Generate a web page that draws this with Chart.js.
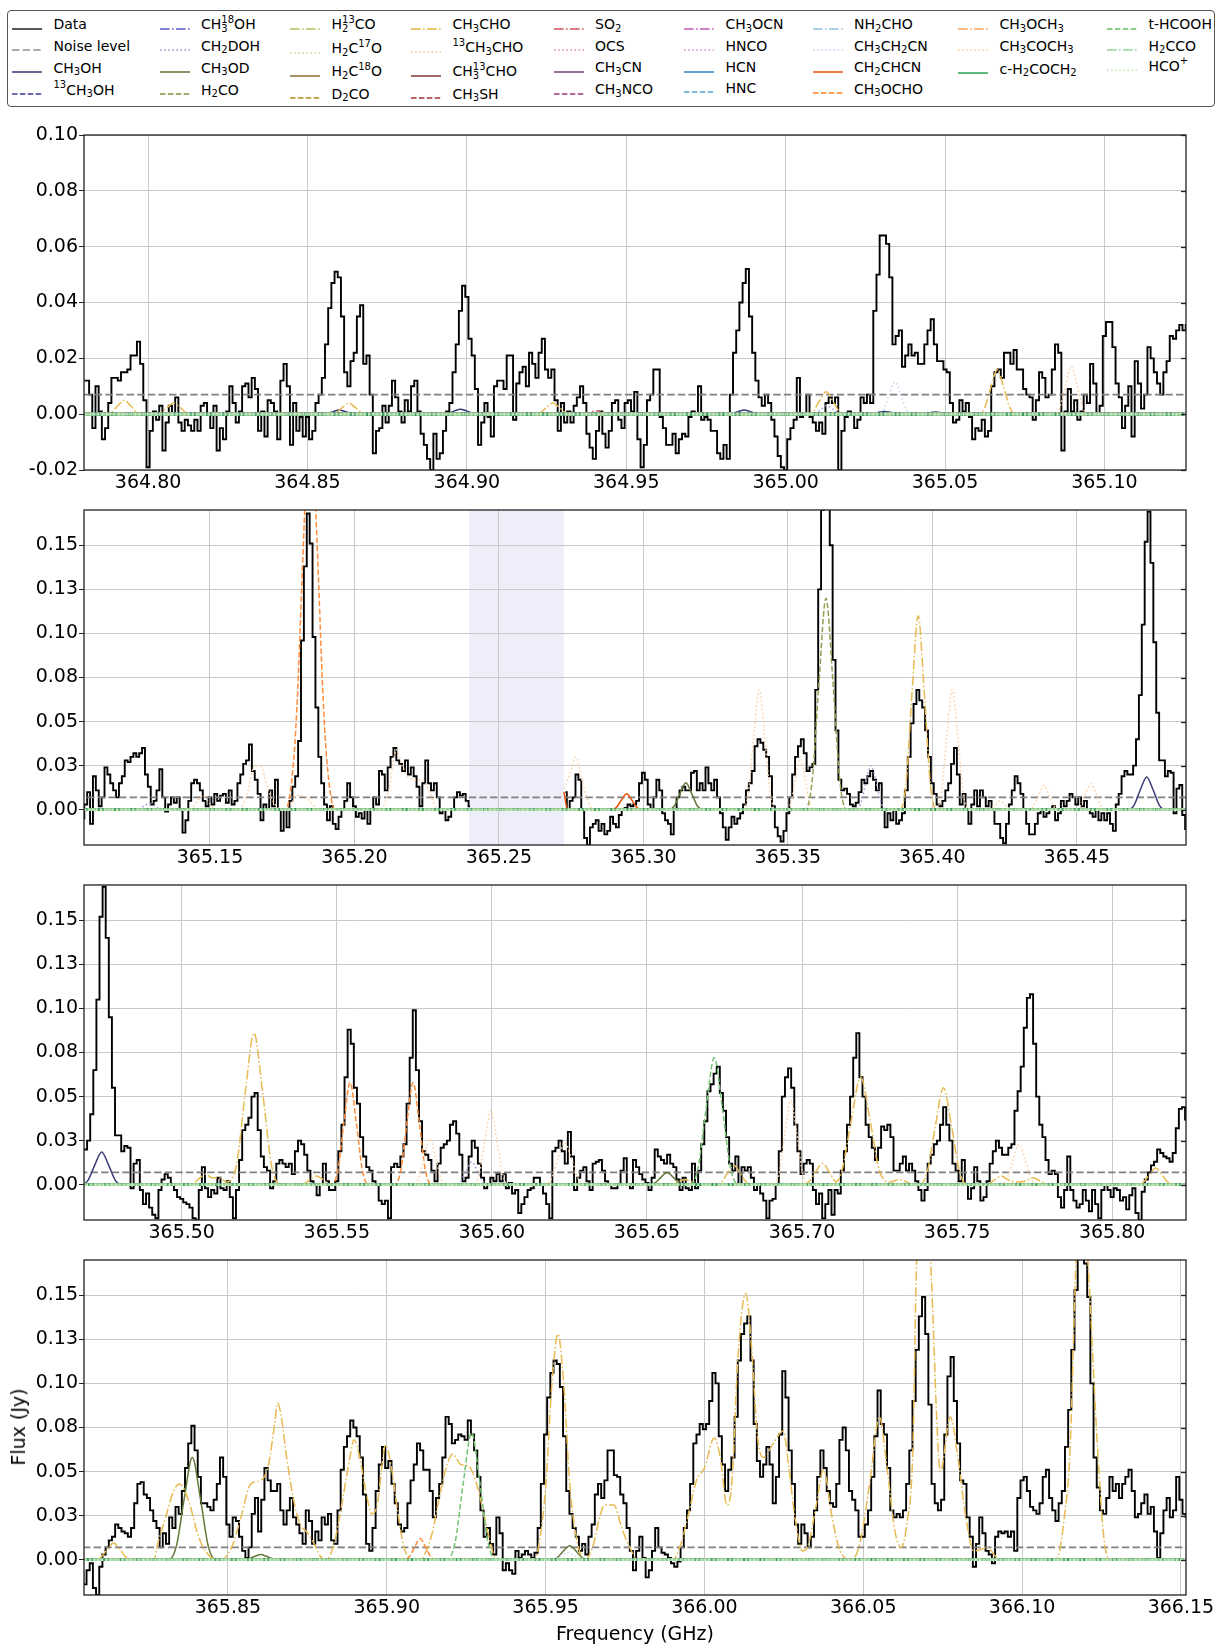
<!DOCTYPE html>
<html>
<head>
<meta charset="utf-8">
<script src="https://cdn.jsdelivr.net/npm/chart.js@4.4.0/dist/chart.umd.min.js"></script>
<style>
  body { margin: 0; background: #fff; font-family: "DejaVu Sans", sans-serif; }
  #page { position: relative; width: 1217px; height: 1645px; overflow: hidden; }
  canvas.panel { position: absolute; left: 0; }
  #legendBox { position: absolute; left: 7px; top: 10px; width: 1208px; height: 97px; box-sizing: border-box;
               border: 1.6px solid #555; border-radius: 4px; }
  .lg { position: absolute; font-size: 14px; line-height: 14px; white-space: nowrap; color: #000; }
  .lh { position: absolute; }
  .st { display: inline-block; position: relative; font-size: 10px; height: 0; vertical-align: baseline; }
  .st .up { position: absolute; left: 0; top: -14.5px; line-height: 10px; }
  .st .dn { position: absolute; left: 0; top: -5.5px; line-height: 10px; }
  .axlabel { position: absolute; font-size: 19px; white-space: nowrap; color: #000; }
</style>
</head>
<body>
<div id="page">
  <div id="legendBox"></div>
  <canvas id="p1" class="panel" width="1217" height="379"></canvas>
  <canvas id="p2" class="panel" width="1217" height="379"></canvas>
  <canvas id="p3" class="panel" width="1217" height="379"></canvas>
  <canvas id="p4" class="panel" width="1217" height="379"></canvas>
  <div class="axlabel" style="left:18px; top:1427px; transform:translate(-50%,-50%) rotate(-90deg);">Flux (Jy)</div>
  <div class="axlabel" style="left:635px; top:1633px; transform:translate(-50%,-50%);">Frequency (GHz)</div>
</div>
<script>
// observed spectrum, 1 MHz channels, four consecutive stretches
const chanWidth = 0.001;
const seg1Start = 364.780;
const fluxSeg1 = [
  0.012,0.012,0.007,-0.005,0.010,0.001,-0.009,-0.005,0.004,0.013,
  0.013,0.012,0.015,0.015,0.016,0.021,0.021,0.026,0.018,0.005,
  -0.019,-0.006,0.001,-0.002,0.003,-0.013,-0.003,0.003,0.000,0.006,
  -0.003,-0.006,-0.002,-0.004,-0.006,-0.002,-0.006,0.003,0.004,0.000,
  -0.005,0.003,-0.013,-0.005,-0.009,0.001,0.010,0.004,-0.003,0.001,
  0.010,0.011,0.006,0.013,0.009,-0.006,0.001,-0.008,0.005,0.004,
  0.001,-0.009,0.012,0.018,0.010,-0.011,0.004,-0.006,-0.001,-0.008,
  -0.001,-0.009,-0.006,0.004,0.007,0.013,0.025,0.038,0.047,0.051,
  0.049,0.035,0.015,0.010,0.019,0.022,0.035,0.039,0.018,0.021,
  0.007,-0.014,-0.006,-0.005,0.003,-0.003,0.003,0.012,0.006,0.001,
  -0.003,0.005,0.001,0.010,0.012,0.001,-0.007,-0.011,-0.016,-0.020,
  -0.007,-0.016,-0.014,-0.006,0.001,0.004,0.015,0.025,0.037,0.046,
  0.042,0.027,0.021,0.009,-0.011,-0.003,0.004,-0.001,-0.008,0.010,
  0.012,0.012,0.009,0.021,0.021,-0.002,0.011,0.015,0.017,0.010,
  0.022,0.018,0.013,0.022,0.027,0.016,0.013,0.016,0.005,-0.006,
  0.004,-0.003,0.001,-0.003,0.003,0.006,0.010,0.004,-0.007,-0.012,
  -0.016,-0.006,0.001,-0.007,-0.012,-0.006,0.004,0.005,-0.002,-0.005,
  0.004,0.005,0.001,0.008,-0.009,-0.019,-0.011,0.005,0.007,0.016,
  0.016,-0.001,-0.005,-0.011,-0.011,-0.007,-0.014,-0.009,-0.007,-0.008,
  -0.001,0.001,0.000,0.010,-0.002,-0.001,-0.002,-0.006,-0.006,-0.014,
  -0.016,-0.011,-0.016,0.007,0.022,0.030,0.040,0.047,0.052,0.035,
  0.022,0.012,0.006,0.003,0.007,0.004,-0.002,-0.008,-0.015,-0.019,
  -0.020,-0.009,-0.005,-0.002,0.013,-0.001,0.000,0.007,-0.001,-0.003,
  -0.006,-0.003,-0.007,0.004,0.006,0.004,0.006,-0.020,-0.006,-0.001,
  0.001,0.000,-0.005,-0.002,0.006,0.004,0.007,0.004,0.037,0.050,
  0.064,0.064,0.061,0.049,0.025,0.028,0.030,0.017,0.021,0.025,
  0.021,0.022,0.018,0.018,0.025,0.030,0.034,0.025,0.019,0.019,
  0.016,0.015,0.004,-0.003,-0.002,0.005,0.001,0.004,-0.001,-0.009,
  -0.005,-0.006,-0.002,-0.008,-0.006,0.010,0.015,0.016,0.013,0.022,
  0.022,0.018,0.023,0.016,0.016,0.009,0.007,0.006,-0.002,0.005,
  0.015,0.013,0.006,0.007,0.016,0.025,0.022,-0.013,0.001,0.009,
  0.001,0.005,-0.002,0.001,0.007,0.004,0.018,0.011,0.000,0.003,
  0.028,0.033,0.033,0.024,0.011,0.006,-0.005
];
const seg2Start = 365.107;
const fluxSeg2 = [
  0.003,0.010,-0.008,
  0.019,0.011,0.002,0.007,0.024,0.020,0.015,0.011,0.007,0.015,
  0.019,0.028,0.027,0.030,0.032,0.030,0.032,0.035,0.020,0.013,
  0.003,0.005,0.011,0.023,0.007,-0.001,0.003,0.007,0.004,0.007,
  0.000,-0.013,-0.006,0.005,0.015,0.017,0.015,0.011,0.005,0.002,
  0.007,0.003,0.009,0.005,0.008,0.009,0.004,0.011,0.003,0.005,
  0.015,0.020,0.026,0.028,0.037,0.022,0.017,0.009,-0.006,0.003,
  0.000,0.011,0.002,0.017,0.000,-0.012,0.000,-0.010,0.005,0.013,
  0.019,0.039,0.096,0.138,0.168,0.151,0.098,0.058,0.030,0.015,
  0.003,-0.006,0.002,-0.008,-0.011,-0.004,0.000,0.005,0.015,0.007,
  0.002,-0.004,-0.002,-0.005,0.000,-0.008,0.000,0.007,0.003,0.022,
  0.020,0.011,0.024,0.030,0.035,0.028,0.026,0.022,0.028,0.020,
  0.024,0.019,0.013,0.002,0.015,0.028,0.015,0.011,0.015,0.007,
  -0.002,0.000,-0.006,-0.004,0.000,0.007,0.010,0.008,0.009,0.005,
  0.002,
  null,null,null,null,null,null,null,null,null,null,null,null,null,null,null,null,
  null,null,null,null,null,null,null,null,null,null,null,null,null,null,null,null,
  0.010,0.000,0.005,0.007,0.020,0.017,0.000,
  -0.016,-0.020,-0.010,-0.008,-0.006,-0.012,-0.008,-0.014,-0.012,-0.004,-0.008,
  -0.010,-0.003,0.000,0.001,0.003,0.002,0.003,0.005,0.015,
  0.021,0.017,0.003,0.000,0.007,0.017,0.011,-0.002,-0.006,-0.008,
  -0.014,0.000,0.007,0.011,0.013,0.011,0.011,0.021,0.022,0.011,
  0.015,0.011,0.024,0.015,0.011,0.017,0.007,-0.002,-0.010,-0.017,
  -0.010,-0.004,-0.008,-0.005,-0.002,0.003,0.011,0.015,0.022,0.036,
  0.040,0.038,0.034,0.030,0.019,0.002,-0.010,-0.015,-0.018,-0.012,
  -0.002,0.007,0.020,0.030,0.036,0.040,0.032,0.022,0.024,0.026,
  0.068,0.125,0.170,0.178,0.175,0.150,0.085,0.045,0.017,0.011,
  0.012,0.009,0.003,0.002,0.004,0.010,0.017,0.015,0.019,0.022,
  0.017,0.011,0.015,0.000,-0.010,-0.002,-0.006,0.000,-0.008,-0.006,
  -0.002,0.011,0.030,0.049,0.060,0.068,0.062,0.058,0.045,0.030,
  0.015,0.009,0.003,0.002,0.005,0.011,0.015,0.026,0.035,0.020,
  0.003,0.009,0.000,-0.008,0.003,0.011,0.002,0.011,0.007,0.002,
  0.005,0.000,-0.008,-0.008,-0.016,-0.019,-0.008,0.003,0.011,0.019,
  0.015,0.009,0.000,-0.008,-0.014,-0.014,-0.008,-0.002,0.000,-0.004,
  -0.002,0.000,0.002,-0.006,-0.002,0.005,0.002,0.005,0.009,0.007,
  0.003,0.007,0.002,0.005,0.000,-0.002,-0.004,0.000,-0.006,-0.002,
  -0.006,-0.002,-0.008,-0.012,0.003,0.009,0.019,0.022,0.020
];
const seg3Start = 365.469;
const fluxSeg3 = [
  0.020,0.025,0.040,0.065,0.105,0.152,0.169,0.140,0.095,0.055,0.028,
  0.028,0.019,0.022,0.021,-0.002,0.012,0.014,-0.003,-0.011,-0.005,
  -0.013,-0.017,-0.019,-0.003,0.003,0.006,0.004,0.000,-0.003,-0.007,
  -0.008,-0.010,-0.011,-0.013,-0.019,-0.020,-0.003,0.010,-0.002,-0.007,
  -0.003,-0.005,0.004,-0.002,-0.003,0.002,-0.007,-0.019,-0.003,0.014,
  0.031,0.034,0.038,0.050,0.052,0.031,0.016,0.010,0.008,-0.002,
  0.002,0.012,0.014,0.012,0.010,0.012,0.006,0.019,0.025,0.023,
  0.017,0.008,0.002,0.000,-0.006,0.000,0.012,0.002,-0.003,-0.003,
  0.002,0.019,0.034,0.061,0.088,0.080,0.055,0.046,0.027,0.016,
  0.010,0.008,0.002,0.000,-0.009,-0.011,-0.009,-0.019,0.010,0.012,
  0.010,0.016,0.023,0.046,0.072,0.099,0.065,0.036,0.019,0.017,
  0.014,0.008,0.002,0.012,0.021,0.023,0.025,0.034,0.036,0.029,
  0.017,0.002,0.004,0.016,0.025,0.021,0.012,0.004,-0.002,0.000,
  0.004,0.002,0.006,0.002,0.006,-0.002,0.001,-0.005,-0.003,-0.016,
  -0.011,-0.007,-0.003,-0.002,0.004,0.004,0.000,-0.005,-0.011,-0.019,
  0.019,0.021,0.025,0.019,0.012,0.030,0.016,-0.003,0.004,0.008,
  0.010,0.002,-0.003,0.012,0.013,0.014,0.008,0.002,0.000,-0.002,
  -0.002,0.000,0.008,0.015,0.000,-0.002,0.014,0.010,0.006,0.003,
  0.001,-0.003,0.004,0.020,0.016,0.014,0.012,0.017,0.012,0.010,
  0.003,-0.003,0.004,-0.002,-0.003,0.012,-0.002,0.008,0.023,0.036,
  0.053,0.057,0.063,0.067,0.052,0.042,0.027,0.012,0.008,0.016,
  0.000,0.010,0.008,0.010,0.004,-0.003,0.000,-0.005,-0.009,-0.019,
  -0.009,-0.008,0.000,0.019,0.050,0.061,0.066,0.055,0.034,0.019,
  0.006,0.012,0.014,0.012,-0.003,-0.011,-0.005,-0.019,-0.011,-0.003,
  -0.017,-0.003,-0.005,0.008,0.019,0.034,0.050,0.072,0.086,0.061,
  0.050,0.034,0.027,0.021,0.014,0.021,0.033,0.031,0.034,0.027,
  0.008,0.008,0.012,0.016,0.008,0.012,0.008,0.002,-0.003,-0.009,
  -0.003,0.012,0.017,0.023,0.025,0.034,0.044,0.034,0.025,0.012,
  0.008,0.002,0.014,0.000,-0.008,-0.002,0.010,0.002,-0.009,-0.007,
  0.002,0.012,0.019,0.025,0.021,0.017,0.017,0.021,0.023,0.042,
  0.053,0.067,0.089,0.106,0.108,0.080,0.050,0.034,0.027,0.014,
  0.006,0.008,0.006,-0.007,-0.013,-0.003,0.016,-0.003,-0.009,-0.013,
  -0.011,-0.003,-0.009,-0.015,-0.003,-0.011,-0.019,-0.003,0.000,-0.003,
  -0.007,-0.002,-0.003,-0.009,-0.007
];
const seg4Start = 365.805;
const fluxSeg4 = [
  -0.014,-0.006,-0.002,-0.016,-0.020,
  -0.004,0.003,0.007,0.011,0.013,0.020,0.018,0.016,0.015,0.013,
  0.018,0.032,0.043,0.044,0.037,0.035,0.028,0.022,0.018,0.007,
  0.015,0.009,0.024,0.018,0.030,0.026,0.039,0.052,0.066,0.076,
  0.062,0.047,0.032,0.032,0.030,0.028,0.034,0.043,0.058,0.047,
  0.020,0.013,0.024,0.022,0.013,0.005,0.001,0.007,0.026,0.035,
  0.016,0.034,0.052,0.045,0.039,0.039,0.043,0.028,0.020,0.028,
  0.035,0.024,0.020,0.015,0.009,0.028,0.022,0.009,0.016,0.011,
  0.024,0.020,0.026,0.011,0.009,0.028,0.051,0.064,0.070,0.079,
  0.075,0.070,0.058,0.037,0.009,0.005,0.018,0.039,0.054,0.064,
  0.052,0.056,0.043,0.032,0.020,0.016,0.018,0.032,0.045,0.054,
  0.066,0.062,0.051,0.051,0.039,0.024,0.035,0.043,0.058,0.081,
  0.077,0.066,0.068,0.071,0.070,0.068,0.079,0.071,0.062,0.047,
  0.028,0.013,0.018,0.009,0.003,0.024,0.015,-0.006,-0.002,-0.006,
  -0.008,0.005,0.001,0.003,0.005,0.003,0.001,0.004,0.018,0.043,
  0.071,0.092,0.106,0.113,0.111,0.098,0.070,0.039,0.026,0.018,
  0.013,0.005,0.009,0.003,0.013,0.020,0.037,0.043,0.035,0.045,
  0.062,0.062,0.048,0.047,0.037,0.032,0.018,0.005,-0.006,0.005,
  0.013,0.001,-0.010,-0.006,0.005,0.018,0.007,0.004,0.003,0.001,
  -0.002,-0.004,-0.001,0.007,0.018,0.028,0.043,0.066,0.071,0.077,
  0.074,0.077,0.090,0.106,0.100,0.070,0.054,0.039,0.051,0.058,
  0.081,0.113,0.128,0.134,0.138,0.113,0.077,0.056,0.047,0.054,
  0.064,0.054,0.032,0.047,0.071,0.107,0.092,0.062,0.043,0.020,
  0.009,0.020,0.015,0.007,0.013,0.028,0.047,0.062,0.052,0.039,
  0.032,0.030,0.043,0.068,0.075,0.062,0.039,0.034,0.028,0.013,
  0.013,0.020,0.028,0.047,0.070,0.096,0.077,0.071,0.052,0.028,
  0.024,0.026,0.024,0.028,0.043,0.062,0.090,0.119,0.138,0.149,
  0.128,0.088,0.043,0.032,0.028,0.034,0.071,0.104,0.115,0.090,
  0.066,0.045,0.043,0.024,0.013,-0.004,0.009,0.024,0.015,0.005,
  0.003,-0.002,0.013,0.016,0.015,0.016,0.013,0.016,0.005,0.035,
  0.045,0.047,0.039,0.030,0.028,0.026,0.032,0.047,0.051,0.035,
  0.028,0.022,0.032,0.039,0.064,0.085,0.119,0.153,0.171,0.172,
  0.168,0.149,0.100,0.058,0.041,0.028,0.026,0.035,0.047,0.039,
  0.043,0.035,0.043,0.047,0.051,0.039,0.024,0.026,0.032,0.037,
  0.026,0.030,0.016,0.001,0.015,0.028,0.035,0.024,0.028,0.047,
  0.034,0.026,0.024
];
const noiseLevel = 0.007;
const maskedSpan = [365.2397, 365.2725];

// model spectra: [frequency GHz, flux Jy]
const flat = [[364.77,0],[366.16,0]];
const mCH3OH = [[364.77,0],[364.855,0],[364.858,.0009],[364.860,.0015],[364.862,.0009],[364.865,0],
  [364.893,0],[364.896,.0011],[364.898,.0018],[364.900,.0011],[364.903,0],
  [364.982,0],[364.985,.0009],[364.987,.0015],[364.989,.0009],[364.992,0],
  [365.026,0],[365.029,.0006],[365.031,.001],[365.033,.0006],[365.036,0],
  [365.042,0],[365.045,.0005],[365.047,.0008],[365.049,.0005],[365.052,0],
  [365.4676,0],[365.4698,.0025],[365.4720,.0113],[365.4742,.0186],[365.4764,.0113],[365.4786,.0025],[365.4808,0],[366.16,0]];
const mCH2DOH = [[364.77,0],[365.0085,0],[365.0112,.0018],[365.013,.003],[365.0148,.0018],[365.0175,0],
  [365.1245,0],[365.1272,.0021],[365.129,.0035],[365.1308,.0021],[365.1335,0],
  [365.3734,0],[365.3752,.0034],[365.377,.0152],[365.3788,.025],[365.3806,.0152],[365.3824,.0034],[365.3842,0],
  [365.5881,0],[365.5899,.0018],[365.5917,.0079],[365.5935,.013],[365.5953,.0079],[365.5971,.0018],[365.5989,0],[366.16,0]];
const mCH3OD = [[364.77,0],[365.3087,0],[365.3107,.0021],[365.3127,.0093],[365.3147,.0153],[365.3167,.0093],[365.3187,.0021],[365.3207,0],
  [365.6505,0],[365.6525,.0009],[365.6545,.0042],[365.6565,.007],[365.6585,.0042],[365.6605,.0009],[365.6625,0],
  [365.8313,0],[365.8338,.0078],[365.8363,.0352],[365.8388,.058],[365.8413,.0352],[365.8438,.0078],[365.8463,0],
  [365.8553,0],[365.8583,.0018],[365.8603,.003],[365.8623,.0018],[365.8653,0],
  [365.9516,0],[365.9536,.0011],[365.9556,.0049],[365.9576,.008],[365.9596,.0049],[365.9616,.0011],[365.9636,0],[366.16,0]];
const mH2CO = [[364.77,0],[365.3560,0],[365.3584,.0162],[365.3608,.0728],[365.3632,.120],[365.3656,.0728],[365.3680,.0162],[365.3704,0],[366.16,0]];
const mCH3CHO = [[364.77,0],
  [364.7875,0],[364.7905,.003],[364.7925,.005],[364.7945,.003],[364.7975,0],
  [364.803,0],[364.806,.0024],[364.808,.004],[364.810,.0024],[364.813,0],
  [364.858,0],[364.861,.0024],[364.863,.004],[364.865,.0024],[364.868,0],
  [364.922,0],[364.925,.0024],[364.927,.004],[364.929,.0024],[364.932,0],
  [365.0067,0],[365.0087,.0011],[365.0107,.0049],[365.0127,.008],[365.0147,.0049],[365.0167,.0011],[365.0187,0],
  [365.0604,0],[365.0624,.0022],[365.0644,.0097],[365.0664,.016],[365.0684,.0097],[365.0704,.0022],[365.0724,0],
  [365.3888,0],[365.3909,.0149],[365.3930,.0668],[365.3951,.110],[365.3972,.0668],[365.3993,.0149],[365.4014,0],
  [365.5027,0],[365.5057,.0036],[365.5077,.006],[365.5097,.004],[365.512,.004],[365.5145,.0015],
  [365.5177,.0116],[365.5205,.0522],[365.5233,.086],[365.5261,.0522],[365.5289,.0116],[365.5317,0],
  [365.5385,0],[365.5415,.003],[365.5435,.005],[365.5455,.003],[365.5485,0],
  [365.6572,0],[365.6602,.0018],[365.6622,.003],[365.6642,.0018],[365.6672,0],
  [365.672,0],[365.674,.0015],[365.676,.0067],[365.678,.011],[365.680,.0067],[365.682,.0015],[365.684,0],
  [365.700,0],[365.7022,.0016],[365.7044,.0073],[365.7066,.012],[365.7088,.0073],[365.711,.0016],
  [365.7129,.0082],[365.7159,.037],[365.7189,.061],[365.7219,.037],[365.7249,.0082],
  [365.7285,.0015],[365.7313,.003],[365.7333,.0018],[365.7363,0],
  [365.7378,0],[365.7404,.0074],[365.743,.0334],[365.7456,.055],[365.7482,.0334],[365.7508,.0074],[365.7534,0],
  [365.7593,0],[365.7623,.003],[365.7643,.005],[365.7663,.003],[365.7693,.0015],[365.7725,.0024],[365.7745,.004],[365.7765,.0024],[365.7795,0],
  [365.808,0],[365.810,.0013],[365.812,.0058],[365.814,.0095],[365.816,.0058],[365.818,.0013],[365.820,0],
  [365.8267,0],[365.8279,.009],[365.8304,.024],[365.8329,.039],[365.8348,.043],[365.8379,.032],[365.8404,.015],[365.8429,.005],[365.8466,0],
  [365.8479,0],[365.8516,.009],[365.8541,.024],[365.8572,.043],[365.8603,.045],[365.8628,.054],[365.8647,.077],[365.8657,.089],
  [365.8668,.081],[365.8685,.058],[365.8709,.032],[365.8728,.020],[365.8747,.016],[365.8766,.011],[365.8791,.002],[365.8809,0],
  [365.8834,.009],[365.8859,.032],[365.8884,.058],[365.8897,.068],[365.8915,.058],[365.8934,.039],[365.8953,.026],[365.8971,.032],
  [365.8988,.058],[365.8996,.065],[365.9015,.052],[365.9034,.028],[365.9052,.009],[365.9071,.001],[365.9102,0],
  [365.9140,.013],[365.9165,.035],[365.9190,.054],[365.9208,.060],[365.9233,.054],[365.9258,.053],[365.9283,.043],[365.9308,.024],[365.9327,.009],[365.9345,0],
  [365.9464,0],[365.9483,.013],[365.9501,.043],[365.9520,.100],[365.9539,.128],[365.9557,.100],[365.9576,.043],[365.9601,.009],[365.9626,0],
  [365.9651,.009],[365.9670,.024],[365.9686,.031],[365.9715,.031],[365.9740,.018],[365.9765,.007],[365.9790,0],
  [365.9901,0],[365.9926,.009],[365.9950,.026],[365.9975,.045],[366.0000,.052],[366.0031,.069],[366.0050,.058],[366.0071,.031],
  [366.0087,.045],[366.0105,.113],[366.0130,.151],[366.0149,.119],[366.0167,.070],[366.0186,.058],[366.0217,.066],[366.0248,.073],
  [366.0266,.052],[366.0285,.024],[366.0309,.005],[366.0328,.009],[366.0353,.032],[366.0375,.051],[366.0402,.024],[366.0427,.005],[366.0464,0],
  [366.0489,.009],[366.0520,.043],[366.0551,.081],[366.0575,.052],[366.0600,.016],[366.0619,.007],[366.0637,.020],[366.0656,.062],
  [366.0668,.17],[366.0690,.23],[366.0712,.17],[366.0736,.062],[366.0743,.050],[366.0774,.081],[366.0798,.058],[366.0823,.024],
  [366.0848,.005],[366.0873,.006],[366.0891,.007],[366.0916,.002],[366.0934,0],
  [366.1108,0],[366.1133,.024],[366.1151,.062],[366.1170,.17],[366.1188,.215],[366.1207,.17],[366.1238,.062],[366.1256,.015],[366.1275,0],[366.16,0]];
const mSO2 = [[364.77,0],[364.936,0],[364.939,.0007],[364.9405,.0012],[364.942,.0007],[364.945,0],[366.16,0]];
const mCH3CH2CN = [[364.77,0],[365.0289,0],[365.0307,.0016],[365.0325,.007],[365.0343,.0116],[365.0361,.007],[365.0379,.0016],[365.0397,0],
  [365.952,0],[365.955,.0024],[365.957,.004],[365.959,.0024],[365.962,0],[366.16,0]];
const mCH2CHCN = [[364.77,0],[365.2397,0],[365.256,null],[365.2725,.010],[365.2738,0],
  [365.2888,0],[365.2906,.0012],[365.2924,.0055],[365.2942,.009],[365.2960,.0055],[365.2978,.0012],[365.2996,0],[366.16,0]];
const mCH3OCHO = [[364.77,0],[365.1761,0],[365.1790,.0287],[365.1804,.069],[365.1818,.1287],[365.1833,.187],[365.1847,.212],
  [365.1861,.187],[365.1876,.1287],[365.1890,.069],[365.1904,.0287],[365.1933,0],
  [365.5483,0],[365.5503,.0078],[365.5523,.0352],[365.5543,.058],[365.5563,.0352],[365.5583,.0078],[365.5603,0],
  [365.5686,0],[365.5706,.0078],[365.5726,.0352],[365.5746,.058],[365.5766,.0352],[365.5786,.0078],[365.5806,0],
  [365.9054,0],[365.9071,.0016],[365.9088,.0073],[365.9105,.012],[365.9122,.0073],[365.9139,.0016],[365.9156,0],[366.16,0]];
const mCH3COCH3 = [[364.77,0],[365.0842,0],[365.086,.0023],[365.0878,.0103],[365.0896,.017],[365.0914,.0103],[365.0932,.0023],[365.095,0],
  [365.1421,0],[365.1439,.0011],[365.1457,.0049],[365.1475,.008],[365.1493,.0049],[365.1511,.0011],[365.1529,0],
  [365.160,0],[365.163,.01],[365.1655,.025],[365.1675,.025],[365.170,.012],[365.1725,.003],[365.175,0],
  [365.177,0],[365.180,.008],[365.1825,.008],[365.185,.004],[365.188,0],
  [365.209,0],[365.212,.012],[365.2145,.034],[365.2165,.025],[365.219,.018],[365.2215,.017],[365.224,.016],[365.2265,.008],[365.229,0],
  [365.2397,0],[365.256,null],[365.2725,.012],[365.2745,.02],[365.2767,.030],[365.279,.015],[365.2815,.002],[365.283,0],
  [365.3344,0],[365.3363,.0092],[365.3382,.0413],[365.3401,.068],[365.342,.0413],[365.3439,.0092],[365.3458,0],
  [365.3495,0],[365.3511,.0041],[365.3527,.0182],[365.3543,.030],[365.3559,.0182],[365.3575,.0041],[365.3591,0],
  [365.4012,0],[365.4031,.0092],[365.405,.0413],[365.4069,.068],[365.4088,.0413],[365.4107,.0092],[365.4126,0],
  [365.419,0],[365.422,.003],[365.4235,.005],[365.425,.003],[365.428,0],
  [365.4332,0],[365.435,.0019],[365.4368,.0084],[365.4386,.0138],[365.4404,.0084],[365.4422,.0019],[365.444,0],
  [365.4495,0],[365.4513,.002],[365.4531,.009],[365.4549,.0148],[365.4567,.009],[365.4585,.002],[365.4603,0],
  [365.5746,0],[365.5764,.0035],[365.5782,.0158],[365.580,.026],[365.5818,.0158],[365.5836,.0035],[365.5854,0],
  [365.594,0],[365.5959,.0057],[365.5978,.0255],[365.5997,.042],[365.6016,.0255],[365.6035,.0057],[365.6054,0],
  [365.6169,0],[365.6191,.0032],[365.6213,.0146],[365.6235,.024],[365.6257,.0146],[365.6279,.0032],[365.6301,0],
  [365.6907,0],[365.6926,.0065],[365.6945,.0291],[365.6964,.048],[365.6983,.0291],[365.7002,.0065],[365.7021,0],
  [365.764,0],[365.766,.0031],[365.768,.014],[365.770,.023],[365.772,.014],[365.774,.0031],[365.776,0],[366.16,0]];
const mtHCOOH = [[364.77,0],[365.6639,0],[365.6665,.0097],[365.6691,.0437],[365.6717,.072],[365.6743,.0437],[365.6769,.0097],[365.6795,0],
  [365.9189,0],[365.9215,.0097],[365.9241,.0437],[365.9267,.072],[365.9293,.0437],[365.9319,.0097],[365.9345,0],[366.16,0]];

const speciesLabels = ['CH_{3}OH','^{13}CH_{3}OH','CH_{3}^{18}OH','CH_{2}DOH','CH_{3}OD','H_{2}CO','H_{2}^{13}CO','H_{2}C^{17}O',
  'H_{2}C^{18}O','D_{2}CO','CH_{3}CHO','^{13}CH_{3}CHO','CH_{3}^{13}CHO','CH_{3}SH','SO_{2}','OCS','CH_{3}CN','CH_{3}NCO',
  'CH_{3}OCN','HNCO','HCN','HNC','NH_{2}CHO','CH_{3}CH_{2}CN','CH_{2}CHCN','CH_{3}OCHO','CH_{3}OCH_{3}','CH_{3}COCH_{3}',
  'c-H_{2}COCH_{2}','t-HCOOH','H_{2}CCO','HCO^{+}'];
const speciesColors = ['#393b79','#5254a3','#6b6ecf','#9c9ede','#637939','#8ca252','#b5cf6b','#cedb9c',
  '#8c6d31','#bd9e39','#e7ba52','#e7cb94','#843c39','#ad494a','#d6616b','#e7969c','#7b4173','#a55194',
  '#ce6dbd','#de9ed6','#3182bd','#6baed6','#9ecae1','#c6dbef','#e6550d','#fd8d3c','#fdae6b','#fdd0a2',
  '#31a354','#74c476','#a1d99b','#c7e9c0'];
const speciesLines = [mCH3OH, flat, flat, mCH2DOH, mCH3OD, mH2CO, flat, flat,
  flat, flat, mCH3CHO, flat, flat, flat, mSO2, flat, flat, flat,
  flat, flat, flat, flat, flat, mCH3CH2CN, mCH2CHCN, mCH3OCHO, flat, mCH3COCH3,
  flat, mtHCOOH, flat, flat];
const lineCycle = ['solid','dashed','dashdot','dotted'];
const dashStyles = { solid: [], dashed: [5.5, 2.4], dashdot: [9.6, 2.4, 1.6, 2.4], dotted: [1.6, 2.5] };

const panelRanges = [[364.7799, 365.1256], [365.1064, 365.4878], [365.4685, 365.8238], [365.8047, 366.1516]];
const xTicks = [
  [364.80, 364.85, 364.90, 364.95, 365.00, 365.05, 365.10],
  [365.15, 365.20, 365.25, 365.30, 365.35, 365.40, 365.45],
  [365.50, 365.55, 365.60, 365.65, 365.70, 365.75, 365.80],
  [365.85, 365.90, 365.95, 366.00, 366.05, 366.10, 366.15]
];
const yTicksTop = [-0.02, 0.00, 0.02, 0.04, 0.06, 0.08, 0.10];
const yTickLabelsTop = ['-0.02', '0.00', '0.02', '0.04', '0.06', '0.08', '0.10'];
const yTicksLow = [0, 0.025, 0.05, 0.075, 0.1, 0.125, 0.15];
const yTickLabelsLow = ['0.00', '0.03', '0.05', '0.08', '0.10', '0.13', '0.15'];
const plotTops = [135, 510, 885, 1260];

Chart.defaults.font.family = 'DejaVu Sans';
Chart.defaults.color = '#000';

function channelPoints(start, vals) {
  return vals.map((v, i) => ({ x: Math.round((start + i * chanWidth) * 1e4) / 1e4, y: v }));
}
const fluxPoints = [].concat(
  channelPoints(seg1Start, fluxSeg1), channelPoints(seg2Start, fluxSeg2),
  channelPoints(seg3Start, fluxSeg3), channelPoints(seg4Start, fluxSeg4));

const framePlugin = {
  id: 'frame',
  beforeDraw(chart, args, opts) {
    if (!opts.span) return;
    const { ctx, chartArea: a, scales: { x } } = chart;
    const x0 = x.getPixelForValue(opts.span[0]), x1 = x.getPixelForValue(opts.span[1]);
    ctx.save();
    ctx.fillStyle = 'rgba(226,226,248,0.6)';
    ctx.fillRect(x0, a.top, x1 - x0, a.bottom - a.top);
    ctx.restore();
  },
  afterDraw(chart) {
    const { ctx, chartArea: a, scales: { y } } = chart;
    ctx.save();
    ctx.strokeStyle = '#222';
    ctx.lineWidth = 1.3;
    ctx.strokeRect(a.left, a.top, a.right - a.left, a.bottom - a.top);
    y.ticks.forEach(t => {
      const py = Math.round(y.getPixelForValue(t.value)) + 0.5;
      ctx.beginPath(); ctx.moveTo(a.right, py); ctx.lineTo(a.right - 5, py); ctx.stroke();
    });
    ctx.restore();
  }
};

function makePanel(idx) {
  const canvas = document.getElementById('p' + (idx + 1));
  canvas.style.top = (plotTops[idx] - 12) + 'px';
  const top = idx === 0;
  const yVals = top ? yTicksTop : yTicksLow;
  const yLabs = top ? yTickLabelsTop : yTickLabelsLow;

  const datasets = [{
    data: fluxPoints, borderColor: '#000', borderWidth: 1.9, stepped: 'middle',
    pointRadius: 0, order: 1000, clip: 0, spanGaps: false
  }, {
    data: [{ x: 364.77, y: noiseLevel }, { x: 366.16, y: noiseLevel }], borderColor: '#808080',
    borderWidth: 1.8, borderDash: [7.4, 3.2], pointRadius: 0, order: 999, clip: 0
  }];
  speciesLines.forEach((pts, k) => {
    datasets.push({
      data: pts.map(([x, y]) => ({ x, y })), borderColor: speciesColors[k],
      borderWidth: pts === flat ? 2.6 : 1.5,
      borderDash: dashStyles[lineCycle[k % 4]], cubicInterpolationMode: 'monotone',
      pointRadius: 0, order: 500 - k, clip: 0, spanGaps: false
    });
  });

  new Chart(canvas, {
    type: 'line',
    data: { datasets },
    plugins: [framePlugin],
    options: {
      responsive: false, animation: false, events: [],
      layout: { padding: { left: 0, right: 31, top: 12, bottom: 0 } },
      plugins: { legend: { display: false }, tooltip: { enabled: false }, frame: { span: idx === 1 ? maskedSpan : null } },
      scales: {
        x: {
          type: 'linear', min: panelRanges[idx][0], max: panelRanges[idx][1],
          afterBuildTicks: s => { s.ticks = xTicks[idx].map(v => ({ value: v })); },
          afterFit: s => { s.height = 32; s.paddingLeft = 0; s.paddingRight = 0; },
          ticks: { callback: v => Number(v).toFixed(2), font: { size: 19 }, color: '#000', maxRotation: 0, autoSkip: false, padding: 2 },
          grid: { color: '#c9c9c9', lineWidth: 1, drawTicks: false },
          border: { display: false }
        },
        y: {
          type: 'linear', min: -0.02, max: top ? 0.10 : 0.17,
          afterBuildTicks: s => { s.ticks = yVals.map(v => ({ value: v })); },
          afterFit: s => { s.width = 84; s.paddingTop = 0; s.paddingBottom = 0; },
          ticks: { callback: (v, i) => yLabs[i], font: { size: 19 }, color: '#000', padding: 1, autoSkip: false },
          grid: { color: '#c9c9c9', lineWidth: 1, tickLength: 5, tickColor: '#222' },
          border: { display: false }
        }
      }
    }
  });
}
[0, 1, 2, 3].forEach(makePanel);

// legend
function chem(s) {
  let html = '', i = 0;
  while (i < s.length) {
    if (s[i] === '_' || s[i] === '^') {
      let sub = '', sup = '';
      while (s[i] === '_' || s[i] === '^') {
        const end = s.indexOf('}', i);
        const val = s.slice(i + 2, end);
        if (s[i] === '_') sub = val; else sup = val;
        i = end + 1;
      }
      const w = Math.max(...[sub, sup].map(t => [...t].reduce((a, ch) => a + (ch === '+' ? 0.84 : 0.64), 0)));
      html += '<span class="st" style="width:' + w.toFixed(2) + 'em">' +
        (sup ? '<span class="up">' + sup + '</span>' : '') +
        (sub ? '<span class="dn">' + sub + '</span>' : '') + '</span>';
    } else { html += s[i]; i++; }
  }
  return html;
}
const legendColX = [12, 159.5, 290, 411, 553.5, 684, 812.5, 958, 1107];
const legendRowY = [[24, 45.3, 67.2, 89.3], [24, 45.3, 67.2, 89.3], [24, 47.7, 71, 93.3], [24, 46.7, 70.7, 93.3],
  [24, 45.3, 66.7, 89], [24, 45.3, 66.7, 87.3], [24, 45.3, 66.7, 88.3], [24, 45.3, 68.3], [24, 45.3, 65.3]];
const legendEntries = [
  { label: 'Data', color: '#000', dash: [], w: 2, op: 0.65 },
  { label: 'Noise level', color: '#808080', dash: [7.4, 3.2], w: 1.8, op: 0.65 }
].concat(speciesLabels.map((l, k) => ({ label: l, color: speciesColors[k], dash: dashStyles[lineCycle[k % 4]], w: 1.8, op: 0.85 })));

const page = document.getElementById('page');
legendEntries.forEach((e, n) => {
  let col, row;
  if (n < 28) { col = Math.floor(n / 4); row = n % 4; }
  else { col = 7 + Math.floor((n - 28) / 3); row = (n - 28) % 3; }
  const x = legendColX[col], y = legendRowY[col][row];
  const h = document.createElement('div');
  h.className = 'lh';
  h.style.left = x + 'px'; h.style.top = (y - 5) + 'px';
  h.innerHTML = '<svg width="30" height="10"><line x1="0" y1="5" x2="30" y2="5" stroke="' + e.color +
    '" stroke-width="' + e.w + '" stroke-opacity="' + e.op + '"' +
    (e.dash.length ? ' stroke-dasharray="' + e.dash.join(' ') + '"' : '') + '/></svg>';
  page.appendChild(h);
  const t = document.createElement('div');
  t.className = 'lg';
  t.style.left = (x + 41.5) + 'px'; t.style.top = (y - 6.7) + 'px';
  t.innerHTML = chem(e.label);
  page.appendChild(t);
});
</script>
</body>
</html>
